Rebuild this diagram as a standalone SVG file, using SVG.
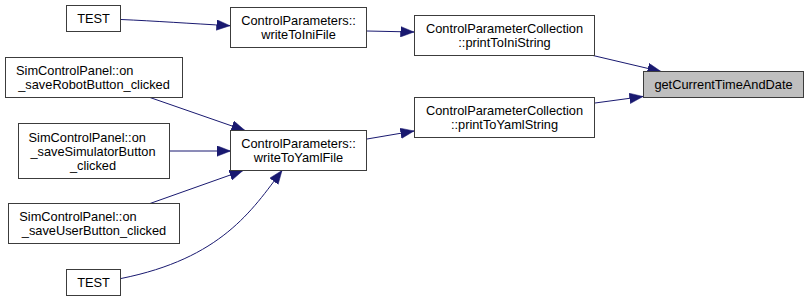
<svg xmlns="http://www.w3.org/2000/svg" width="809" height="301" viewBox="0 0 809 301">
  <style>
    .node rect { fill: #ffffff; stroke: #3c3c3c; stroke-width: 1; }
    .node.current rect { fill: #bfbfbf; }
    .node text { font-family: "Liberation Sans", Arial, Helvetica, sans-serif; font-size: 12.8px; fill: #000000; text-anchor: middle; }
    .node text.l { text-anchor: start; }
    .edge { fill: none; stroke: #191970; stroke-width: 1; marker-end: url(#arrow); }
  </style>
  <defs>
    <marker id="arrow" markerUnits="userSpaceOnUse" markerWidth="14" markerHeight="11" refX="13.5" refY="5.25" orient="auto">
      <path d="M0,0 L13.5,5.25 L0,10.5 Z" fill="#191970" stroke="#191970" stroke-width="0.5"/>
    </marker>
  </defs>
  <rect width="809" height="301" fill="#ffffff"/>

  <!-- connectors: caller -> callee -->
  <g id="edges">
    <path class="edge" d="M121,19.5 C155,21 190,23.5 230,25.7"/>
    <path class="edge" d="M367,31 L414,32"/>
    <path class="edge" d="M593,55.5 L661,71.5"/>
    <path class="edge" d="M595,103 L643,96.5"/>
    <path class="edge" d="M367,139 L414,131"/>
    <path class="edge" d="M150,97.5 L245,130.5"/>
    <path class="edge" d="M169.5,151 L230.5,151"/>
    <path class="edge" d="M150,203.5 L243,170.5"/>
    <path class="edge" d="M121,278.5 C221,258.5 252,210.5 282,170.5"/>
  </g>

  <g id="node_test_ini" class="node">
    <rect x="66.5" y="5.5" width="54" height="26"/>
    <text x="93.5" y="23">TEST</text>
  </g>
  <g id="node_write_ini" class="node">
    <rect x="230.5" y="7.5" width="136" height="40"/>
    <text x="298.5" y="25">ControlParameters::</text>
    <text x="298.5" y="39">writeToIniFile</text>
  </g>
  <g id="node_save_robot" class="node">
    <rect x="5.5" y="57.5" width="177" height="40"/>
    <text class="l" x="16" y="75">SimControlPanel::on</text>
    <text x="94" y="89">_saveRobotButton_clicked</text>
  </g>
  <g id="node_save_simulator" class="node">
    <rect x="18.5" y="123.5" width="151" height="55"/>
    <text class="l" x="28.5" y="141.5">SimControlPanel::on</text>
    <text x="93" y="155.5">_saveSimulatorButton</text>
    <text x="93" y="169.5">_clicked</text>
  </g>
  <g id="node_write_yaml" class="node">
    <rect x="230.5" y="130.5" width="136" height="40"/>
    <text x="298.5" y="148">ControlParameters::</text>
    <text x="298.5" y="162">writeToYamlFile</text>
  </g>
  <g id="node_save_user" class="node">
    <rect x="8.5" y="203.5" width="171" height="40"/>
    <text class="l" x="19.3" y="221">SimControlPanel::on</text>
    <text x="94" y="235">_saveUserButton_clicked</text>
  </g>
  <g id="node_test_yaml" class="node">
    <rect x="66.5" y="269.5" width="54" height="26"/>
    <text x="93.5" y="287">TEST</text>
  </g>
  <g id="node_print_ini" class="node">
    <rect x="414.5" y="15.5" width="180" height="40"/>
    <text x="504.5" y="33">ControlParameterCollection</text>
    <text x="504.5" y="47">::printToIniString</text>
  </g>
  <g id="node_print_yaml" class="node">
    <rect x="414.5" y="97.5" width="180" height="40"/>
    <text x="504.5" y="115">ControlParameterCollection</text>
    <text x="504.5" y="129">::printToYamlString</text>
  </g>
  <g id="node_get_time" class="node current">
    <rect x="643.5" y="71.5" width="160" height="26"/>
    <text x="723.5" y="89">getCurrentTimeAndDate</text>
  </g>
</svg>
